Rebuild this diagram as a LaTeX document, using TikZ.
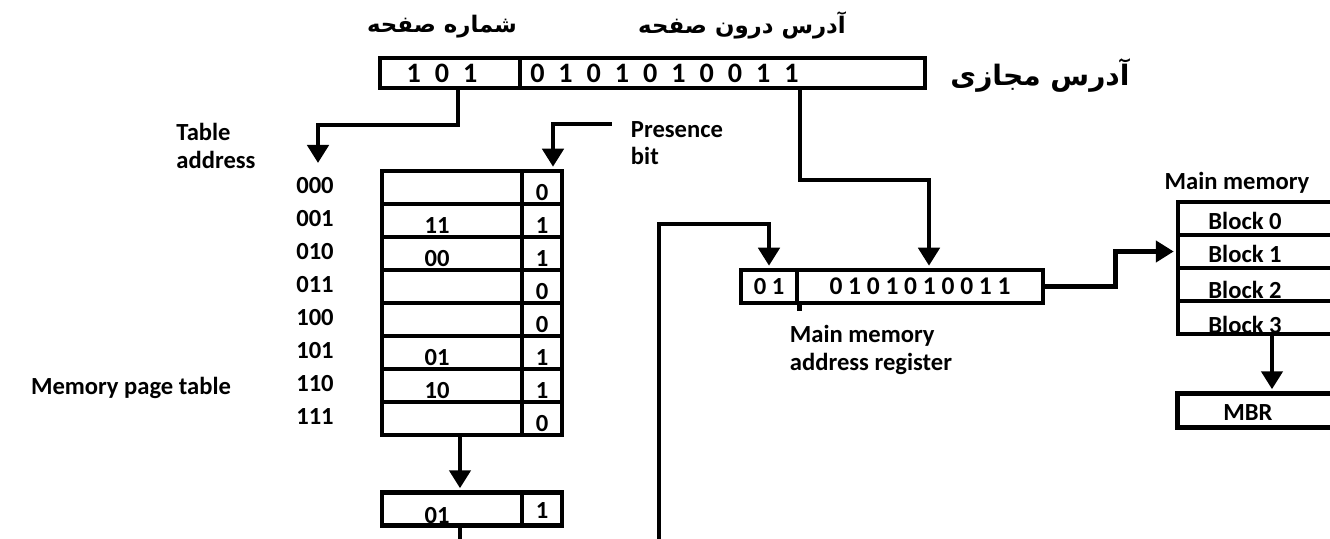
\documentclass[tikz,border=0pt]{standalone}
\usepackage{fontspec}
\setmainfont{Carlito}
\newfontfamily\bitfont{Carlito}[WordSpace=2.2]
\newfontfamily\farsifont[Script=Arabic]{DejaVu Sans}
\TeXXeTstate=1
\usetikzlibrary{arrows.meta, calc}
\tikzset{
  every picture/.style={line width=0.09cm},
  lbl/.style={font=\bfseries\fontsize{14}{15.5}\selectfont, inner sep=0pt, align=left},
  bits/.style={font=\bitfont\bfseries\fontsize{16}{18}\selectfont, inner sep=0pt},
  fa/.style={font=\farsifont\bfseries\fontsize{13}{16}\selectfont, inner sep=0pt},
  cell/.style={draw, minimum height=0.66cm, inner sep=0pt},
  arrow/.style={-{Triangle[width=0.42cm, length=0.36cm]}, shorten >=0.04cm},
}

\begin{document}
\begin{tikzpicture}
  \useasboundingbox (0,0) rectangle (26.6,10.76);
  \clip (0,0) rectangle (26.6,10.76);

  % virtual address: page number | offset
  \node[fa] (pnlabel) at (8.84,10.22) {\beginR شماره صفحه\endR};
  \node[fa] (offlabel) at (14.84,10.26) {\beginR آدرس درون صفحه\endR};
  \node[fa, font=\farsifont\bfseries\fontsize{16}{19}\selectfont] (valabel) at (20.8,9.24) {\beginR آدرس مجازی\endR};
  \node[cell, minimum width=2.8cm, minimum height=0.6cm] (pn) at (9.0,9.3) {};
  \node[cell, minimum width=8.1cm, minimum height=0.6cm] (off) at (14.45,9.3) {};
  \node[bits] (pnbits) at (8.84,9.3) {1 0 1};
  \node[bits, anchor=west] (offbits) at (10.56,9.3) {0 1 0 1 0 1 0 0 1 1};

  % page table
  \node[lbl] (tabaddr) at (4.32,7.84) {Table\\address};
  \node[lbl] (presence) at (13.54,7.9) {Presence\\bit};
  \node[lbl] (mpt) at (2.62,3.0) {Memory page table};
  \foreach \addr/\fr/\bit [count=\i from 0] in
      {000//0, 001/11/1, 010/00/1, 011//0, 100//0, 101/01/1, 110/10/1, 111//0} {
    \node[lbl] (ad\i) at (6.3,{7.04-0.66*\i}) {\addr};
    \node[cell, minimum width=2.8cm] (fr\i) at (9.04,{7.01-0.66*\i}) {};
    \node[cell, minimum width=0.8cm] (pb\i) at (10.84,{7.01-0.66*\i}) {};
    \node[lbl] (frv\i) at ([xshift=-0.3cm, yshift=-0.1cm]fr\i.center) {\fr};
    \node[lbl] (pbv\i) at ([yshift=-0.1cm]pb\i.center) {\bit};
  }
  \coordinate (adtop) at (6.36,7.46);
  \draw[arrow] ([xshift=0.16cm]pn.south) -- ++(0,-0.7) -| (adtop);
  \draw[arrow] ($(presence.north west)+(-0.34,-0.1)$) -| ([xshift=0.22cm]pb0.north);

  % entry that was looked up
  \node[lbl] (selfrv) at (8.74,0.44) {01};
  \node[lbl] (selpbv) at (10.84,0.54) {1};
  \node[cell, minimum width=2.8cm] (selfr) at (9.04,0.58) {};
  \node[cell, minimum width=0.8cm] (selpb) at (10.84,0.58) {};
  \draw[arrow] ([xshift=0.16cm]fr7.south) -- ([xshift=0.16cm]selfr.north);
  \draw ([xshift=0.16cm]selfr.south) -- ++(0,-0.5);

  % main memory address register
  \node[cell, minimum width=1.12cm] (mhi) at (15.38,5.03) {};
  \node[cell, minimum width=4.92cm] (mlo) at (18.4,5.03) {};
  \draw (mhi.south east) -- ++(0,-0.12);
  \node[lbl] (mhiv) at (15.38,5.03) {0 1};
  \node[lbl, font=\bfseries\fontsize{14.5}{16}\selectfont] (mlov) at (18.4,5.03) {0 1 0 1 0 1 0 0 1 1};
  \node[lbl] (marlabel) at (17.42,3.76) {Main memory\\address register};
  \draw[arrow] ([xshift=1.55cm]off.south) -- ++(0,-1.8) -| ([xshift=0.18cm]mlo.north);
  \coordinate (feed) at (13.18,-0.3);
  \draw[arrow] (feed) -- ++(0,6.58) -| (mhi.north);

  % main memory and MBR
  \node[lbl] (mmlabel) at (24.74,7.1) {Main memory};
  \foreach \b/\dy [count=\i from 0] in {0/0.04, 1/0.04, 2/0.1, 3/0.15} {
    \node[lbl] (blkv\i) at (24.9,{6.39-0.66*\i-\dy}) {Block \b};
    \node[cell, minimum width=3.64cm] (blk\i) at (25.38,{6.39-0.66*\i}) {};
  }
  \node[lbl] (mbrv) at (24.96,2.5) {MBR};
  \node[cell, minimum width=3.66cm, minimum height=0.68cm] (mbr) at (25.38,2.55) {};
  \draw[arrow] (mlo.east) -- ++(1.4,0) |- (blk1.west);
  \draw[arrow] ([xshift=0.06cm]blk3.south) -- ([xshift=0.06cm]mbr.north);
\end{tikzpicture}
\end{document}
